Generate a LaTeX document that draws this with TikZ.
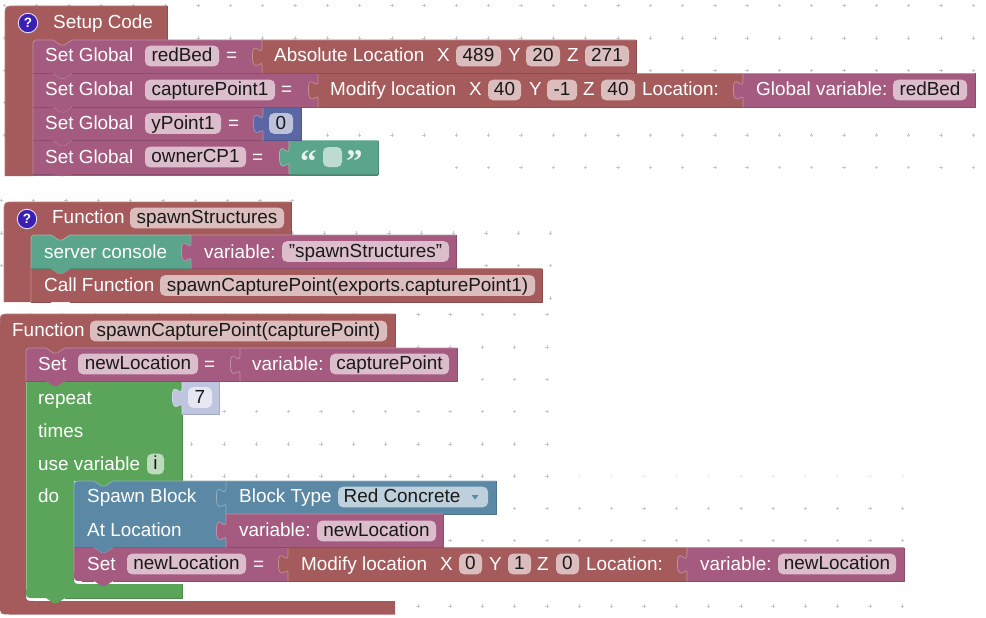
\documentclass[tikz,border=0pt]{standalone}
\usepackage{fontspec}
\setmainfont{Liberation Sans}
\newfontfamily\quotefont{Liberation Serif}
\definecolor{cred}{HTML}{A55B5B}
\definecolor{cpur}{HTML}{A55B80}
\definecolor{cteal}{HTML}{5BA58C}
\definecolor{cgreen}{HTML}{5BA55B}
\definecolor{cblue}{HTML}{5B89A5}
\definecolor{cnum}{HTML}{5B67A5}
\definecolor{cpale}{HTML}{BFC5DE}
\definecolor{cicon}{HTML}{3A1FB5}
\definecolor{cdot}{HTML}{C8C8C8}
\newcount\autoid
\tikzset{
  lbl/.style={anchor=base west,inner sep=0pt,text=white,font=\fontsize{18.9}{20}\selectfont},
  fieldbox/.style={rounded corners=5pt,inner sep=0pt,text=black!90,font=\fontsize{18.9}{20}\selectfont,
    text height=13.4pt,text depth=2pt,minimum height=20.6pt,align=center},
  gridmark/.style={draw=cdot,line width=.55pt},
  lightedge/.style={line width=.7pt,line join=round},
  darkedge/.style={line width=.7pt,line join=round},
}
% statement block: colour,x1,y1,x2,y2,top-left radius,bottom-left radius,bump depth
\newcommand{\stmtb}[8]{%
  \fill[#1] (#2,{#3+#6}) .. controls (#2,#3) .. ({#2+#6},#3) -- ({#2+20},#3) -- ++(7.6,5) -- ++(3.8,0) -- ++(7.6,-5)
    -- (#4,#3) -- (#4,#5) -- ({#2+39},#5) -- ++(-7.6,#8) -- ++(-3.8,0) -- ++(-7.6,-#8)
    -- ({#2+#7},#5) .. controls (#2,#5) .. (#2,{#5-#7}) -- cycle;
  \draw[lightedge,#1!70!white] (#2,{#5-#7}) -- (#2,{#3+#6}) .. controls (#2,#3) .. ({#2+#6},#3) -- ({#2+20},#3) -- ++(7.6,5) -- ++(3.8,0) -- ++(7.6,-5) -- (#4,#3);
  \draw[darkedge,#1!85!black] (#4,#3) -- (#4,#5) -- ({#2+39},#5);
  \draw[darkedge,#1!85!black] ({#2+20},#5) -- ({#2+#7},#5);
}
% value block: colour,x1,y1,x2,y2
\newcommand{\valb}[5]{%
  \fill[#1] (#2,#3) -- (#4,#3) -- (#4,#5) -- (#2,#5) -- (#2,{#3+25})
    .. controls (#2,{#3+19}) and ({#2-9.6},{#3+34.6}) .. ({#2-9.6},{#3+16})
    .. controls ({#2-9.6},{#3-2.6}) and (#2,{#3+19}) .. (#2,{#3+7}) -- cycle;
  \draw[lightedge,#1!68!white] (#4,#3) -- (#2,#3) -- (#2,{#3+7})
    .. controls (#2,{#3+19}) and ({#2-9.6},{#3-2.6}) .. ({#2-9.6},{#3+16})
    .. controls ({#2-9.6},{#3+34.6}) and (#2,{#3+19}) .. (#2,{#3+25}) -- (#2,#5);
  \draw[darkedge,#1!85!black] (#4,#3) -- (#4,#5) -- ({#2+.5},#5);
}
% bump of a parent block that fills the dent of its first child: colour,x,y
\newcommand{\parentbump}[3]{\fill[#1] (#2,{#3-.5}) -- ++(0,.5) -- ++(7.6,5) -- ++(3.8,0) -- ++(7.6,-5) -- ++(0,-.5) -- cycle;}
% text label: x, row top, text
\newcommand{\lbl}[3]{\global\advance\autoid by 1 \node[lbl] (t\the\autoid) at (#1,{#2+21.7}) {#3};}
% editable field: base colour,x1,x2,row top,text
\newcommand{\fld}[5]{\global\advance\autoid by 1
  \node[fieldbox,fill=#1!40!white,minimum width={(#3-#2)*1pt}] (f\the\autoid) at ({(#2+#3)/2},{#4+16}) {#5};}
\newcommand{\helpicon}[2]{\global\advance\autoid by 1
  \node[circle,draw=white!85!cicon,fill=cicon,line width=.9pt,minimum size=19.5pt,inner sep=0pt,text=white,
    font=\bfseries\fontsize{13.5}{14}\selectfont] (h\the\autoid) at (#1,#2) {?};}
% row of grid marks: y,x0,first k,last k
\newcommand{\markrow}[5][1]{%
  \foreach \k in {#4,...,#5}{%
    \pgfmathsetmacro{\xx}{#3+32.3*\k}
    \draw[gridmark,opacity=#1] (\xx-1.7,#2) -- (\xx+1.7,#2) (\xx,#2-1.7) -- (\xx,#2+1.7);
  }}
\begin{document}
\begin{tikzpicture}[x=1pt,y=-1pt]
\useasboundingbox (0,0) rectangle (986,618);
\fill[white] (0,0) rectangle (986,618);
% grid marks
\foreach \r in {5.7,38,70.3,102.6,134.9}{\markrow{\r}{4.2}{0}{30}}
\markrow{167.2}{4.2}{14}{30}
\markrow{200.7}{1.4}{0}{9}
\markrow{233}{1.4}{0}{17}
\markrow{265.5}{1.4}{0}{17}
\markrow{298}{1.4}{17}{17}
\markrow{314.6}{224}{-6}{10}
\markrow{347}{224}{6}{10}
\markrow{379.3}{224}{7}{10}
\markrow{411.7}{224}{0}{10}
\markrow{443.8}{224}{-1}{10}
\markrow{476}{224}{-1}{10}
\markrow[.3]{476}{224}{11}{21}
\markrow{508.3}{224}{9}{21}
\markrow{540.5}{224}{7}{21}
\markrow{606}{224}{6}{21}

% ===== Setup Code =====
\fill[cred] (5,16) .. controls (5,6) .. (15,6) -- (167,6) -- (167,40) -- (33,40) -- (33,176) -- (5,176) -- cycle;
\draw[lightedge,cred!80!white] (5,176) -- (5,16) .. controls (5,6) .. (15,6) -- (167,6);
\draw[darkedge,cred!85!black] (167,6) -- (167,40) -- (33,40);
\parentbump{cred}{53}{40}
\helpicon{28}{23}
\lbl{53}{7}{Setup Code}
\fill[cred] (33,174) rectangle (378,176);
\stmtb{cpur}{33}{140.5}{289}{174}{0}{0}{2}
\valb{cteal}{289}{140.5}{378}{174}
\node[lbl,text=white!85!cteal,font=\quotefont\bfseries\fontsize{33}{33}\selectfont] (qa) at (300,172) {“};
\node[lbl,text=white!85!cteal,font=\quotefont\bfseries\fontsize{33}{33}\selectfont] (qb) at (346,172) {”};
\fill[cteal!40!white,rounded corners=5pt] (323,147) rectangle (342,167);
\lbl{45}{141.5}{Set Global}
\fld{cpur}{145}{246}{141}{ownerCP1}
\lbl{252}{141.5}{=}
\stmtb{cpur}{33}{107}{263}{140.5}{0}{0}{5}
\valb{cnum}{263}{107}{301}{140.5}
\fld{cnum}{269}{293}{107.5}{0}
\lbl{45}{108}{Set Global}
\fld{cpur}{145}{221}{107.5}{yPoint1}
\lbl{228}{108}{=}
\stmtb{cpur}{33}{73.5}{318}{107}{0}{0}{5}
\valb{cred}{318}{73.5}{743}{107}
\valb{cpur}{743}{73.5}{975}{107}
\lbl{45}{74}{Set Global}
\fld{cpur}{145}{275}{74}{capturePoint1}
\lbl{281}{74}{=}
\lbl{330}{74}{Modify location}
\lbl{469}{74}{X}
\fld{cred}{488}{521}{74}{40}
\lbl{529}{74}{Y}
\fld{cred}{547}{577}{74}{-1}
\lbl{583}{74}{Z}
\fld{cred}{601}{635}{74}{40}
\lbl{642}{74}{Location:}
\lbl{756}{74}{Global variable:}
\fld{cpur}{893}{967}{74}{redBed}
\stmtb{cpur}{33}{40}{262}{73.5}{7}{0}{5}
\valb{cred}{262}{40}{636}{73.5}
\lbl{45}{40}{Set Global}
\fld{cpur}{145}{219}{40}{redBed}
\lbl{226}{40}{=}
\lbl{274}{40}{Absolute Location}
\lbl{437}{40}{X}
\fld{cred}{456}{501}{40}{489}
\lbl{508}{40}{Y}
\fld{cred}{526}{560}{40}{20}
\lbl{567}{40}{Z}
\fld{cred}{585}{629}{40}{271}

% ===== Function spawnStructures =====
\fill[cred] (4,212) .. controls (4,202) .. (14,202) -- (291,202) -- (291,235) -- (31,235) -- (31,302) -- (4,302) -- cycle;
\draw[lightedge,cred!80!white] (4,302) -- (4,212) .. controls (4,202) .. (14,202) -- (291,202);
\draw[darkedge,cred!85!black] (291,202) -- (291,235) -- (31,235);
\parentbump{cred}{51}{235}
\helpicon{27}{219}
\lbl{52}{201.6}{Function}
\fld{cred}{130}{284}{202}{spawnStructures}
\stmtb{cred}{31}{268.5}{542}{302}{0}{0}{0}
\lbl{44}{270}{Call Function}
\fld{cred}{160}{535}{269.5}{spawnCapturePoint(exports.capturePoint1)}
\stmtb{cteal}{31}{235}{191}{268.5}{7}{0}{5}
\valb{cpur}{191}{235}{456}{268.5}
\lbl{44}{236.3}{server console}
\lbl{204}{236.3}{variable:}
\fld{cpur}{282}{449}{235.5}{\char34 spawnStructures\char34}

% ===== Function spawnCapturePoint =====
\fill[cred] (0,324) .. controls (0,314) .. (10,314) -- (395,314) -- (395,348) -- (26,348) -- (26,593) .. controls (26,601) .. (34,601)
  -- (395,601) -- (395,614.5) -- (10,614.5) .. controls (0,614.5) .. (0,604.5) -- cycle;
\draw[lightedge,cred!80!white] (0,324) .. controls (0,314) .. (10,314) -- (395,314);
\draw[darkedge,cred!85!black] (395,314) -- (395,348) -- (26,348);
\parentbump{cred}{46}{348}
\lbl{12}{315}{Function}
\fld{cred}{90}{387}{315}{spawnCapturePoint(capturePoint)}
% repeat block
\fill[cgreen] (26,381) -- (182,381) -- (182,481) -- (74,481) -- (74,576) .. controls (74,584) .. (82,584) -- (182,584) -- (182,598)
  -- (65,598) -- ++(-7.6,5) -- ++(-3.8,0) -- ++(-7.6,-5) -- (34,598) .. controls (26,598) .. (26,590) -- cycle;
\draw[darkedge,cgreen!85!black] (182,381) -- (182,481);
\draw[darkedge,cgreen!85!black] (182,584) -- (182,598) -- (65,598);
\draw[lightedge,cgreen!70!white] (26,590) -- (26,381);
\parentbump{cgreen}{94}{481}
\lbl{38}{382.3}{repeat}
\lbl{38}{415.8}{times}
\lbl{38}{448.3}{use variable}
\lbl{38}{480.3}{do}
\fld{cgreen}{147}{164}{448}{i}
\valb{cpale}{182}{381}{219}{414.5}
\node[fieldbox,fill=cpale!40!white,minimum width=24pt] (seven) at (200,397.5) {7};
% inner statements
\stmtb{cpur}{74}{547.5}{288}{581}{0}{8}{5}
\valb{cred}{288}{547.5}{687}{581}
\valb{cpur}{687}{547.5}{904}{581}
\lbl{87}{548.3}{Set}
\fld{cpur}{127}{246}{548}{newLocation}
\lbl{253}{548.3}{=}
\lbl{301}{548.3}{Modify location}
\lbl{440}{548.3}{X}
\fld{cred}{459}{482}{548}{0}
\lbl{489}{548.3}{Y}
\fld{cred}{508}{531}{548}{1}
\lbl{537}{548.3}{Z}
\fld{cred}{556}{579}{548}{0}
\lbl{586}{548.3}{Location:}
\lbl{700}{548.3}{variable:}
\fld{cpur}{778}{896}{548}{newLocation}
\stmtb{cblue}{74}{481}{226}{547.5}{8}{0}{5}
\valb{cblue}{226}{481}{496}{514}
\valb{cpur}{226}{514}{443}{547.5}
\lbl{87}{481}{Spawn Block}
\lbl{87}{515}{At Location}
\lbl{239}{481}{Block Type}
\lbl{239}{515}{variable:}
\fld{cblue}{338}{488}{481}{\hspace*{-22pt}Red Concrete}
\fill[cblue] (471.5,495) -- (478.5,495) -- (475,499.5) -- cycle;
\fld{cpur}{317}{436}{515}{newLocation}
% first set row
\stmtb{cpur}{26}{348}{240}{381}{7}{0}{5}
\valb{cpur}{240}{348}{457}{381}
\lbl{38}{348.3}{Set}
\fld{cpur}{78}{198}{348}{newLocation}
\lbl{204}{348.3}{=}
\lbl{252}{348.3}{variable:}
\fld{cpur}{330}{449}{348}{capturePoint}
\end{tikzpicture}
\end{document}
